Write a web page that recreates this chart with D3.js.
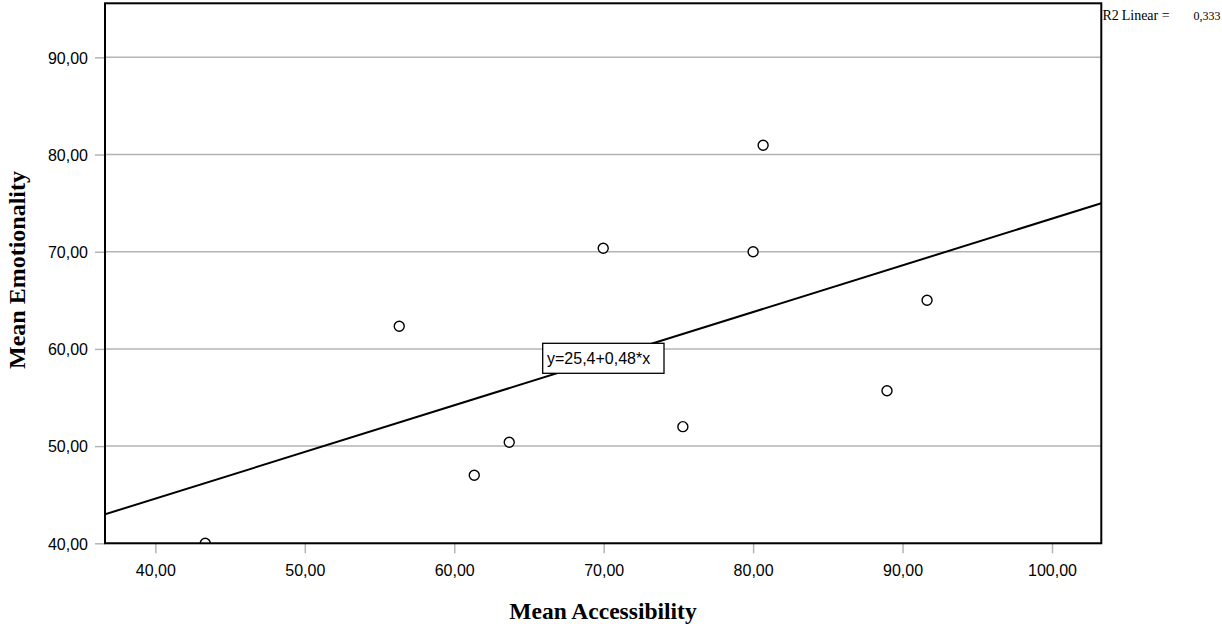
<!DOCTYPE html>
<html><head><meta charset="utf-8">
<script src="https://cdn.jsdelivr.net/npm/d3@7"></script>
<style>body{margin:0;background:#fff}svg{display:block}</style>
</head><body>
<svg id="c" width="1222" height="624"></svg>
<script>
const accessibility = [43.34, 56.32, 61.34, 63.68, 69.97, 75.3, 80.0, 80.67, 88.96, 91.64];
const emotionality  = [40.0, 62.33, 47.0, 50.4, 70.35, 52.0, 70.0, 80.96, 55.7, 65.0];
const xTicks = [40, 50, 60, 70, 80, 90, 100];
const yTicks = [40, 50, 60, 70, 80, 90];
const fitIntercept = 25.4, fitSlope = 0.48;
const fitLabel = "y=25,4+0,48*x";
const r2Parts = ["R2", "Linear =", "0,333"];
const xTitle = "Mean Accessibility", yTitle = "Mean Emotionality";

const svg = d3.select("#c");
const L = 105, R = 1101.3, T = 3.3, B = 543.3;
const x = d3.scaleLinear().domain([36.63, 103.3]).range([L, R]);
const y = d3.scaleLinear().domain([40, 95.56]).range([B, T]);
const fmt = d => d3.format(".2f")(d).replace(".", ",");
const SANS = "Liberation Sans, Arial, sans-serif", SERIF = "Liberation Serif, Times New Roman, serif";

// gridlines
svg.append("g").selectAll("line").data(yTicks).join("line")
  .attr("x1", L).attr("x2", R).attr("y1", d => y(d)).attr("y2", d => y(d))
  .attr("stroke", "#b4b4b4").attr("stroke-width", 1.5);

// axes
const xa = svg.append("g").attr("transform", `translate(0,${B})`)
  .call(d3.axisBottom(x).tickValues(xTicks).tickFormat(fmt).tickSize(10).tickPadding(8));
const ya = svg.append("g").attr("transform", `translate(${L},0)`)
  .call(d3.axisLeft(y).tickValues(yTicks).tickFormat(fmt).tickSize(10).tickPadding(7));
[xa, ya].forEach(a => {
  a.select(".domain").remove();
  a.selectAll("line").attr("stroke", "#b4b4b4").attr("stroke-width", 1.5);
  a.selectAll("text").attr("font-family", SANS).attr("font-size", 16).attr("fill", "#000");
});
ya.selectAll("text").attr("dy", "0.36em");
xa.selectAll("text").attr("dy", "0.9em");

// clip
svg.append("clipPath").attr("id", "pc").append("rect")
  .attr("x", L).attr("y", T).attr("width", R - L).attr("height", B - T);

const plot = svg.append("g").attr("clip-path", "url(#pc)");
const xd = x.domain();
plot.append("line")
  .attr("x1", x(xd[0])).attr("y1", y(fitIntercept + fitSlope * xd[0]))
  .attr("x2", x(xd[1])).attr("y2", y(fitIntercept + fitSlope * xd[1]))
  .attr("stroke", "#000").attr("stroke-width", 2);

plot.selectAll("circle").data(accessibility).join("circle")
  .attr("cx", d => x(d)).attr("cy", (d, i) => y(emotionality[i])).attr("r", 5)
  .attr("fill", "#fff").attr("stroke", "#000").attr("stroke-width", 1.4);

// frame
svg.append("rect").attr("x", L).attr("y", T).attr("width", R - L).attr("height", B - T)
  .attr("fill", "none").attr("stroke", "#000").attr("stroke-width", 2);

// equation label
svg.append("rect").attr("x", 542.7).attr("y", 343.3).attr("width", 121.3).attr("height", 30)
  .attr("fill", "#fff").attr("stroke", "#000").attr("stroke-width", 1.3);
svg.append("text").attr("x", 547).attr("y", 363.5).text(fitLabel)
  .attr("font-family", SANS).attr("font-size", 16).attr("fill", "#000");

// R2
const r2 = svg.append("g").attr("font-family", SERIF).attr("fill", "#000");
r2.append("text").attr("x", 1102.5).attr("y", 19.5).attr("font-size", 14).text(r2Parts[0]);
r2.append("text").attr("x", 1121.7).attr("y", 19.5).attr("font-size", 14).text(r2Parts[1]);
r2.append("text").attr("x", 1220.5).attr("y", 19.5).attr("font-size", 12).attr("text-anchor", "end").text(r2Parts[2]);

// titles
svg.append("text").attr("x", 603).attr("y", 619).attr("text-anchor", "middle").text(xTitle)
  .attr("font-family", SERIF).attr("font-weight", "bold").attr("font-size", 23.5).attr("fill", "#000");
svg.append("text").attr("transform", `translate(25,270) rotate(-90)`).attr("text-anchor", "middle").text(yTitle)
  .attr("font-family", SERIF).attr("font-weight", "bold").attr("font-size", 24).attr("fill", "#000");
</script>
</body></html>
